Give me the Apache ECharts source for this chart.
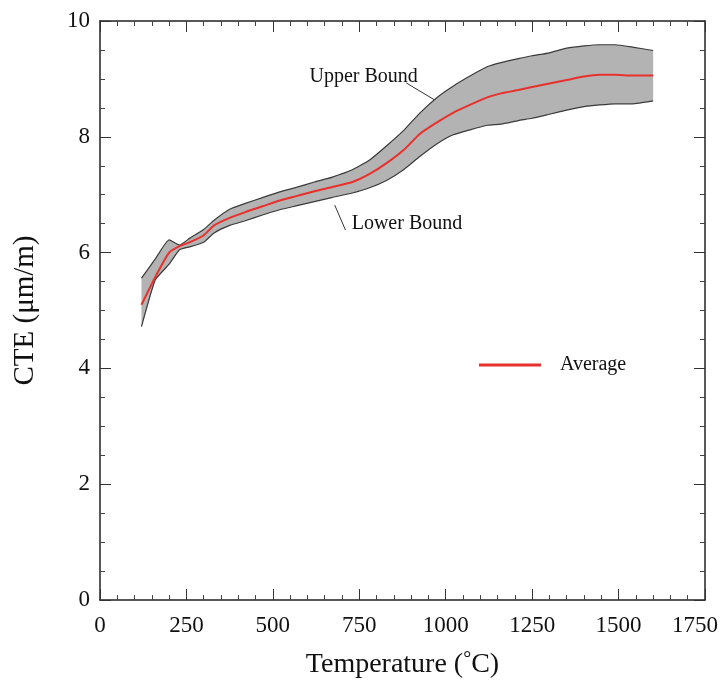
<!DOCTYPE html>
<html>
<head>
<meta charset="utf-8">
<script src="https://cdn.jsdelivr.net/npm/echarts@6/dist/echarts.min.js"></script>
<style>
  html, body { margin: 0; padding: 0; background: #fff; }
  #chart { width: 721px; height: 687px; }
</style>
</head>
<body>
<div id="chart"></div>
<script>
// temperatures (°C) where the curves were read
const temps = [120, 160, 200, 230, 260, 300, 330, 375, 420, 470, 520, 570, 620, 670, 730, 780, 830,
  880, 925, 975, 1020, 1070, 1120, 1160, 1210, 1250, 1300, 1350, 1400, 1445, 1490, 1540, 1600]
// CTE (um/m)
const average = [5.10, 5.58, 6.00, 6.11, 6.18, 6.30, 6.47, 6.60, 6.70, 6.80, 6.90, 6.98, 7.06, 7.13, 7.22, 7.36, 7.55,
  7.78, 8.05, 8.25, 8.41, 8.55, 8.68, 8.75, 8.81, 8.86, 8.92, 8.98, 9.04, 9.07, 9.07, 9.06, 9.06]
const upper = [5.56, 5.89, 6.22, 6.13, 6.25, 6.40, 6.56, 6.75, 6.85, 6.95, 7.05, 7.13, 7.22, 7.30, 7.43, 7.60, 7.85,
  8.12, 8.41, 8.68, 8.87, 9.05, 9.21, 9.28, 9.35, 9.40, 9.45, 9.53, 9.57, 9.59, 9.59, 9.55, 9.49]
const lower = [4.72, 5.53, 5.80, 6.05, 6.10, 6.18, 6.34, 6.47, 6.55, 6.65, 6.74, 6.81, 6.88, 6.95, 7.03, 7.12, 7.25,
  7.44, 7.66, 7.88, 8.03, 8.12, 8.20, 8.22, 8.28, 8.32, 8.39, 8.46, 8.52, 8.55, 8.57, 8.57, 8.62]

const font = 'Liberation Serif'
const chart = echarts.init(document.getElementById('chart'))

const lowerPts = temps.map((t, i) => [t, lower[i]])
const upperPts = temps.map((t, i) => [t, upper[i]])
const avgPts = temps.map((t, i) => [t, average[i]])

const tickCommon = {
  axisLine: { show: true, onZero: false, lineStyle: { color: '#222', width: 1.5 } },
  axisTick: { show: true, inside: true, length: 11, lineStyle: { color: '#333' } },
  minorTick: { show: true, splitNumber: 5, length: 5, lineStyle: { color: '#444' } },
  splitLine: { show: false }
}

// shaded band between the bounds, one polygon
function renderBand (params, api) {
  if (params.dataIndex !== 0) return
  const pts = []
  for (let i = 0; i < temps.length; i++) pts.push(api.coord([temps[i], upper[i]]))
  for (let i = temps.length - 1; i >= 0; i--) pts.push(api.coord([temps[i], lower[i]]))
  return {
    type: 'polygon',
    shape: { points: pts },
    style: { fill: '#b3b3b3', stroke: 'none' }
  }
}

chart.setOption({
  animation: false,
  backgroundColor: '#fff',
  textStyle: { fontFamily: font },
  grid: { left: 100, right: 15, top: 21, bottom: 87 },
  legend: {
    data: [{ name: 'Average', icon: 'rect' }],
    left: 474, top: 350,
    itemWidth: 62, itemHeight: 3, itemGap: 10,
    textStyle: { fontFamily: font, fontSize: 20, color: '#111', padding: [0, 0, 0, 14] }
  },
  xAxis: [{
    type: 'value', min: 0, max: 1750, interval: 250,
    name: 'Temperature ({sup|°}C)', nameLocation: 'middle', nameGap: 50,
    nameTextStyle: {
      fontFamily: font, fontSize: 28, color: '#111',
      rich: { sup: { fontFamily: font, fontSize: 20, color: '#111', verticalAlign: 'top', padding: [0, 0, 10, 0] } }
    },
    axisLabel: {
      fontFamily: font, fontSize: 23, color: '#111', margin: 14,
      formatter: v => v === 1750 ? '{last|1750}' : String(v),
      rich: { last: { fontFamily: font, fontSize: 23, color: '#111', padding: [0, 20, 0, 0] } }
    },
    ...tickCommon
  }, {
    type: 'value', min: 0, max: 1750, interval: 250, position: 'top',
    axisLabel: { show: false },
    ...tickCommon
  }],
  yAxis: [{
    type: 'value', min: 0, max: 10, interval: 2,
    name: 'CTE (μm/m)', nameLocation: 'middle', nameGap: 60,
    nameTextStyle: { fontFamily: font, fontSize: 29, color: '#111' },
    axisLabel: { fontFamily: font, fontSize: 23, color: '#111', margin: 10 },
    ...tickCommon,
    minorTick: { show: true, splitNumber: 4, length: 5, lineStyle: { color: '#444' } }
  }, {
    type: 'value', min: 0, max: 10, interval: 2, position: 'right',
    axisLabel: { show: false },
    ...tickCommon,
    minorTick: { show: true, splitNumber: 4, length: 5, lineStyle: { color: '#444' } }
  }],
  series: [{
    name: 'band',
    type: 'custom',
    renderItem: renderBand,
    data: temps.map((t, i) => [t, upper[i], lower[i]]),
    encode: { x: 0, y: [1, 2] },
    z: 1
  }, {
    name: 'Lower Bound',
    type: 'line',
    data: lowerPts,
    symbol: 'none',
    smooth: 0.15,
    lineStyle: { color: '#3a3a3a', width: 1.2 },
    z: 3
  }, {
    name: 'Upper Bound',
    type: 'line',
    data: upperPts,
    symbol: 'none',
    smooth: 0.15,
    lineStyle: { color: '#3a3a3a', width: 1.2 },
    z: 3
  }, {
    name: 'Average',
    type: 'line',
    data: avgPts,
    symbol: 'none',
    smooth: 0.2,
    lineStyle: { color: '#e8302c', width: 2 },
    itemStyle: { color: '#e8302c' },
    z: 4
  }]
})

// annotations placed in data coordinates
const notes = [
  { text: 'Upper Bound', at: [606, 9.03], from: [886, 8.93], to: [967, 8.64] },
  { text: 'Lower Bound', at: [728, 6.49], from: [679, 6.82], to: [710, 6.39] }
]
const graphics = []
notes.forEach(n => {
  const p = chart.convertToPixel({ gridIndex: 0 }, n.at)
  const a = chart.convertToPixel({ gridIndex: 0 }, n.from)
  const b = chart.convertToPixel({ gridIndex: 0 }, n.to)
  graphics.push({
    type: 'text', x: p[0], y: p[1], z: 10,
    style: { text: n.text, fontFamily: font, fontSize: 20, fill: '#111', textVerticalAlign: 'middle' }
  })
  graphics.push({
    type: 'line', z: 10,
    shape: { x1: a[0], y1: a[1], x2: b[0], y2: b[1] },
    style: { stroke: '#333', lineWidth: 1 }
  })
})
chart.setOption({ graphic: graphics })
</script>
</body>
</html>
